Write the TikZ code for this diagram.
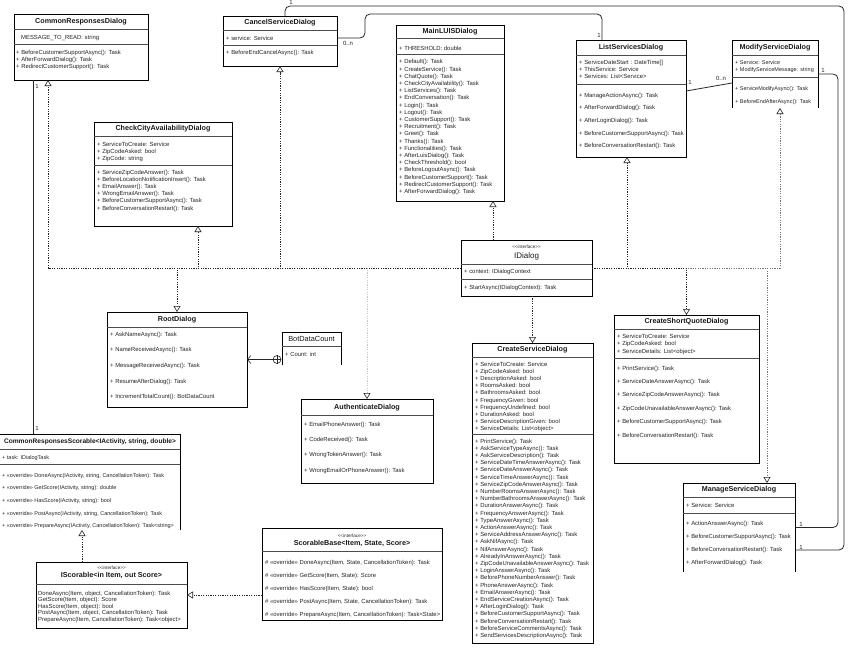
\documentclass[tikz,border=0pt]{standalone}
\usepackage{fontspec}
\setmainfont{Liberation Sans}
\usetikzlibrary{arrows.meta}
\tikzset{
 boxs/.style={draw=black, line width=0.7pt, fill=white, inner sep=0pt, outer sep=0pt},
 boxo/.style={fill=white, inner sep=0pt, outer sep=0pt},
 boxline/.style={draw=black, line width=0.7pt},
 mem/.style={font=\fontsize{5.9}{7}\selectfont, inner sep=0pt, anchor=base west, text=black!85},
 ttl/.style={font=\fontsize{7.2}{8}\selectfont\bfseries, inner sep=0pt, text=black!90},
 ttlr/.style={font=\fontsize{7.4}{8}\selectfont, inner sep=0pt, text=black!90},
 stereo/.style={font=\fontsize{4.6}{5}\selectfont, inner sep=0pt, text=black!85},
 sepl/.style={draw=black!70, line width=0.5pt},
 real/.style={draw=black!85, line width=0.6pt, dash pattern=on 1.2pt off 1.2pt, -{Triangle[open, length=6pt, width=7pt, color=black!85, fill=white]}},
 assoc/.style={draw=black!85, line width=0.8pt, rounded corners=5pt},
 plainln/.style={draw=black!85, line width=0.8pt},
 mult/.style={font=\fontsize{6}{6}\selectfont, inner sep=0pt, text=black!85},
}
\newcommand\ubox[5]{\node[boxs, anchor=north west, minimum width={(#4)-(#2)}, minimum height={(#5)-(#3)}] (#1) at (#2,#3) {};}
\newcommand\uboxo[5]{\node[boxo, anchor=north west, minimum width={(#4)-(#2)}, minimum height={(#5)-(#3)}] (#1) at (#2,#3) {};\draw[boxline] (#1.south west) -- (#1.north west) -- (#1.north east) -- (#1.south east);}
\newcommand\usep[3]{\draw[sepl] (#1,#3) -- (#2,#3);}
\newcommand\urows[6][]{\foreach \rowtxt [count=\ri] in {#6} {\node[mem,#1] (#2-\ri) at (#3,{#4+2.1+(\ri-1)*#5}) {\rowtxt};}}
\begin{document}
\begin{tikzpicture}[x=1pt,y=-1pt]
\useasboundingbox (0,0) rectangle (848,648);
\fill[white] (0,0) rectangle (848,648);
\clip (0,0) rectangle (848,648);

% CommonResponsesDialog
\ubox{crd}{14}{14}{148}{80}
\node[ttl] (crd-t) at (81,22) {CommonResponsesDialog};
\usep{14}{148}{29.5}
\node[mem] (crd-a) at (21,39.1) {MESSAGE\_TO\_READ: string};
\usep{14}{148}{44}
\urows{crd-m}{16}{52}{7}{{+ BeforeCustomerSupportAsync(): Task},{+ AfterForwardDialog(): Task},{+ RedirectCustomerSupport(): Task}}

% CancelServiceDialog
\ubox{csd}{223}{16}{337}{66}
\node[ttl] (csd-t) at (280,23) {CancelServiceDialog};
\usep{223}{337}{30}
\node[mem] (csd-a) at (226,40) {+ service: Service};
\usep{223}{337}{45}
\node[mem] (csd-m) at (226,54) {+ BeforeEndCancelAsync(): Task};

% MainLUISDialog
\ubox{luis}{396}{25}{504}{201}
\node[ttl] (luis-t) at (450,32) {MainLUISDialog};
\usep{396}{504}{38}
\node[mem] (luis-a) at (399,50.1) {+ THRESHOLD: double};
\usep{396}{504}{54.5}
\urows{luis-m}{399}{61.7}{7.2}{{+ Default(): Task},{+ CreateService(): Task},{+ ChatQuote(): Task},{+ CheckCityAvailability(): Task},{+ ListServices(): Task},{+ EndConversation(): Task},{+ Login(): Task},{+ Logout(): Task},{+ CustomerSupport(): Task},{+ Recruitment(): Task},{+ Greet(): Task},{+ Thanks(): Task},{+ Functionalities(): Task},{+ AfterLuisDialog(): Task},{+ CheckThreshold(): bool},{+ BeforeLogoutAsync(): Task},{+ BeforeCustomerSupport(): Task},{+ RedirectCustomerSupport(): Task},{+ AfterForwardDialog(): Task}}

% ListServicesDialog
\ubox{lsd}{576}{40}{686}{157}
\node[ttl] (lsd-t) at (631,47.5) {ListServicesDialog};
\usep{576}{686}{55}
\urows{lsd-a}{579}{62}{7.4}{{+ ServiceDateStart : DateTime[]},{+ ThisService: Service},{+ Services: List<Service>}}
\usep{576}{686}{84}
\urows{lsd-m}{579}{95}{12.7}{{+ ManageActionAsync(): Task},{+ AfterForwardDialog(): Task},{+ AfterLoginDialog(): Task},{+ BeforeCustomerSupportAsync(): Task},{+ BeforeConversationRestart(): Task}}

% ModifyServiceDialog
\uboxo{msd}{732}{40}{818}{108}
\node[ttl] (msd-t) at (775,47.5) {ModifyServiceDialog};
\usep{732}{818}{55}
\urows[font=\fontsize{5.5}{7}\selectfont]{msd-a}{735}{62}{7.8}{{+ Service: Service},{+ ModifyServiceMessage: string}}
\usep{732}{818}{77}
\urows[font=\fontsize{5.5}{7}\selectfont]{msd-m}{735}{88}{13}{{+ ServiceModifyAsync(): Task},{+ BeforeEndAfterAsync(): Task}}

% CheckCityAvailabilityDialog
\ubox{ccd}{94}{122}{232}{226}
\node[ttl] (ccd-t) at (163,128.5) {CheckCityAvailabilityDialog};
\usep{94}{232}{136.5}
\urows{ccd-a}{97}{144}{7.2}{{+ ServiceToCreate: Service},{+ ZipCodeAsked: bool},{+ ZipCode: string}}
\usep{94}{232}{165}
\urows{ccd-m}{97}{172}{7.2}{{+ ServiceZipCodeAnswer(): Task},{+ BeforeLocationNotificationInsert(): Task},{+ EmailAnswer(): Task},{+ WrongEmailAnswer(): Task},{+ BeforeCustomerSupportAsync(): Task},{+ BeforeConversationRestart(): Task}}

% IDialog
\ubox{idlg}{461}{240}{592}{296}
\node[stereo] (idlg-s) at (526.5,247) {<{}<interface>{}>};
\node[ttlr, font=\fontsize{8}{9}\selectfont] (idlg-t) at (526.5,256) {IDialog};
\usep{461}{592}{264.5}
\node[mem] (idlg-a) at (464,273.6) {+ context: IDialogContext};
\usep{461}{592}{279}
\node[mem] (idlg-m) at (464,289) {+ StartAsync(IDialogContext): Task};

% RootDialog
\ubox{root}{107}{312}{247}{407}
\node[ttl] (root-t) at (177,319.5) {RootDialog};
\usep{107}{247}{327}
\urows{root-m}{110}{334}{15.7}{{+ AskNameAsync(): Task},{+ NameReceivedAsync(): Task},{+ MessageReceivedAsync(): Task},{+ ResumeAfterDialog(): Task},{+ IncrementTotalCount(): BotDataCount}}

% BotDataCount
\uboxo{bdc}{282}{332}{341}{365}
\node[ttlr] (bdc-t) at (311.5,339) {BotDataCount};
\usep{282}{341}{346}
\node[mem] (bdc-a) at (285,356) {+ Count: int};

% AuthenticateDialog
\ubox{auth}{301}{399}{433}{483}
\node[ttl] (auth-t) at (367,407.5) {AuthenticateDialog};
\usep{301}{433}{415}
\urows{auth-m}{304}{424}{15.3}{{+ EmailPhoneAnswer(): Task},{+ CodeReceived(): Task},{+ WrongTokenAnswer(): Task},{+ WrongEmailOrPhoneAnswer(): Task}}

% CreateServiceDialog
\ubox{csvc}{472}{343}{593}{643}
\node[ttl] (csvc-t) at (532.5,349.5) {CreateServiceDialog};
\usep{472}{593}{357}
\urows{csvc-a}{475}{364}{7.2}{{+ ServiceToCreate: Service},{+ ZipCodeAsked: bool},{+ DescriptionAsked: bool},{+ RoomsAsked: bool},{+ BathroomsAsked: bool},{+ FrequencyGiven: bool},{+ FrequencyUndefined: bool},{+ DurationAsked: bool},{+ ServiceDescriptionGiven: bool},{+ ServiceDetails: List<object>}}
\usep{472}{593}{434}
\urows{csvc-m}{475}{441}{7.2}{{+ PrintService(): Task},{+ AskServiceTypeAsync(): Task},{+ AskServiceDescription(): Task},{+ ServiceDateTimeAnswerAsync(): Task},{+ ServiceDateAnswerAsync(): Task},{+ ServiceTimeAnswerAsync(): Task},{+ ServiceZipCodeAnswerAsync(): Task},{+ NumberRoomsAnswerAsync(): Task},{+ NumberBathroomsAnswerAsync(): Task},{+ DurationAnswerAsync(): Task},{+ FrequencyAnswerAsync(): Task},{+ TypeAnswerAsync(): Task},{+ ActionAnswerAsync(): Task},{+ ServiceAddressAnswerAsync(): Task},{+ AskNifAsync(): Task},{+ NifAnswerAsync(): Task},{+ AlreadyInAnswerAsync(): Task},{+ ZipCodeUnavailableAnswerAsync(): Task},{+ LoginAnswerAsync(): Task},{+ BeforePhoneNumberAnswer(): Task},{+ PhoneAnswerAsync(): Task},{+ EmailAnswerAsync(): Task},{+ EndServiceCreationAsync(): Task},{+ AfterLoginDialog(): Task},{+ BeforeCustomerSupportAsync(): Task},{+ BeforeConversationRestart(): Task},{+ BeforeServiceCommentsAsync(): Task},{+ SendServicesDescriptionAsync(): Task}}

% CreateShortQuoteDialog
\ubox{csq}{614}{315}{759}{463}
\node[ttl] (csq-t) at (686.5,321.5) {CreateShortQuoteDialog};
\usep{614}{759}{329}
\urows{csq-a}{617}{336}{7.5}{{+ ServiceToCreate: Service},{+ ZipCodeAsked: bool},{+ ServiceDetails: List<object>}}
\usep{614}{759}{358}
\urows{csq-m}{617}{368}{13.4}{{+ PrintService(): Task},{+ ServiceDateAnswerAsync(): Task},{+ ServiceZipCodeAnswerAsync(): Task},{+ ZipCodeUnavailableAnswerAsync(): Task},{+ BeforeCustomerSupportAsync(): Task},{+ BeforeConversationRestart(): Task}}

% ManageServiceDialog
\uboxo{mng}{683}{483}{795}{572}
\node[ttl] (mng-t) at (739,490) {ManageServiceDialog};
\usep{683}{795}{497.5}
\node[mem] (mng-a) at (686,507.6) {+ Service: Service};
\usep{683}{795}{513}
\urows{mng-m}{686}{523}{13}{{+ ActionAnswerAsync(): Task},{+ BeforeCustomerSupportAsync(): Task},{+ BeforeConversationRestart(): Task},{+ AfterForwardDialog(): Task}}

% ScorableBase
\ubox{sb}{262}{528}{442}{620}
\node[stereo] (sb-s) at (352,536) {<{}<interface>{}>};
\node[ttl] (sb-t) at (352,543.5) {ScorableBase<Item, State, Score>};
\usep{262}{442}{551}
\urows{sb-m}{265}{562}{13}{{\# «override» DoneAsync(Item, State, CancellationToken): Task},{\# «override» GetScore(Item, State): Score},{\# «override» HasScore(Item, State): bool},{\# «override» PostAsync(Item, State, CancellationToken): Task},{\# «override» PrepareAsync(Item, CancellationToken): Task<State>}}

% IScorable
\ubox{isc}{36}{562}{187}{628}
\node[stereo] (isc-s) at (111.5,567.5) {<{}<interface>{}>};
\node[ttl] (isc-t) at (111.5,575.5) {IScorable<in Item, out Score>};
\usep{36}{187}{584}
\urows{isc-m}{38}{593}{6.5}{{DoneAsync(Item, object, CancellationToken): Task},{GetScore(Item, object): Score},{HasScore(Item, object): bool},{PostAsync(Item, object, CancellationToken): Task},{PrepareAsync(Item, CancellationToken): Task<object>}}

% CommonResponsesScorable
\uboxo{crs}{-1}{434}{180}{530}
\node[ttl, font=\fontsize{6.6}{8}\selectfont\bfseries] (crs-t) at (90,441.5) {CommonResponsesScorable<IActivity, string, double>};
\usep{-1}{180}{449}
\node[mem, font=\fontsize{5.5}{7}\selectfont] (crs-a) at (2,459.1) {+ task: IDialogTask};
\usep{-1}{180}{464}
\urows[font=\fontsize{5.5}{7}\selectfont]{crs-m}{2}{475}{12.7}{{+ «override» DoneAsync(IActivity, string, CancellationToken): Task},{+ «override» GetScore(IActivity, string): double},{+ «override» HasScore(IActivity, string): bool},{+ «override» PostAsync(IActivity, string, CancellationToken): Task},{+ «override» PrepareAsync(IActivity, CancellationToken): Task<string>}}

% realizations from IDialog
\draw[real, draw=black!55] (idlg.east) -| ([xshift=5pt]msd.south);
\draw[real, draw=black!55] (idlg.east) -| ([xshift=28pt]mng.north);
\draw[real, draw=black!22] (idlg.west) -| (auth.north);
\draw[real] (idlg.west) -| ([xshift=34pt]crd.south west);
\draw[real] (idlg.west) -| ([xshift=35pt]ccd.south);
\draw[real] (idlg.west) -| (csd.south);
\draw[real] (idlg.west) -| (root.north);
\coordinate (luisin) at ([xshift=-33.5pt]idlg.north);
\draw[real] (luisin) -- (luisin |- luis.south);
\draw[real] (csvc.north |- idlg.south) -- (csvc.north);
\draw[real] (idlg.east) -| ([xshift=-4pt]lsd.south);
\draw[real] (idlg.east) -| (csq.north);

% scorable realizations
\coordinate (iscin) at ([xshift=-29.5pt]isc.north);
\draw[real] (iscin) -- (iscin |- crs.south);
\draw[real] (sb.west |- isc.east) -- (isc.east);

% associations
\draw[assoc] ([xshift=5pt]csd.north) -- (285,6) -- (844,6) -- (844,550) -- ([yshift=-22.5pt]mng.east);
\draw[assoc] (msd.east) -- (838,74) -- (838,527.5) -- (mng.east);
\draw[assoc] ([yshift=3pt]csd.east) -- (365,38) -- (365,14) -- (602,14) -- ([xshift=-29pt]lsd.north);
\draw[plainln] ([yshift=7.5pt]lsd.east) -- ([yshift=-9pt]msd.west);
\coordinate (crdA) at ([xshift=19pt]crd.south west);
\draw[plainln] (crdA) -- (crdA |- crs.north);

% nesting BotDataCount -> RootDialog
\node[circle, draw=black!85, line width=0.6pt, minimum size=8pt, inner sep=0pt, fill=white] (nest) at (277,359.5) {};
\draw[line width=0.6pt, draw=black!85] (nest.north) -- (nest.south) (nest.west) -- (nest.east);
\draw[line width=0.6pt, draw=black!85, -{Straight Barb[length=3.5pt, width=8pt]}] (nest.west) -- (root.east);

% multiplicities
\node[mult] (l1) at (291,2.5) {1};
\node[mult] (l2) at (348,43) {0..n};
\node[mult] (l3) at (599,35) {1};
\node[mult] (l4) at (690,82) {1};
\node[mult] (l5) at (721,78) {0..n};
\node[mult] (l6) at (823,70.5) {1};
\node[mult] (l7) at (801,524) {1};
\node[mult] (l8) at (801,547) {1};
\node[mult] (l9) at (37,86) {1};
\node[mult] (l10) at (37,428) {1};
\end{tikzpicture}
\end{document}
